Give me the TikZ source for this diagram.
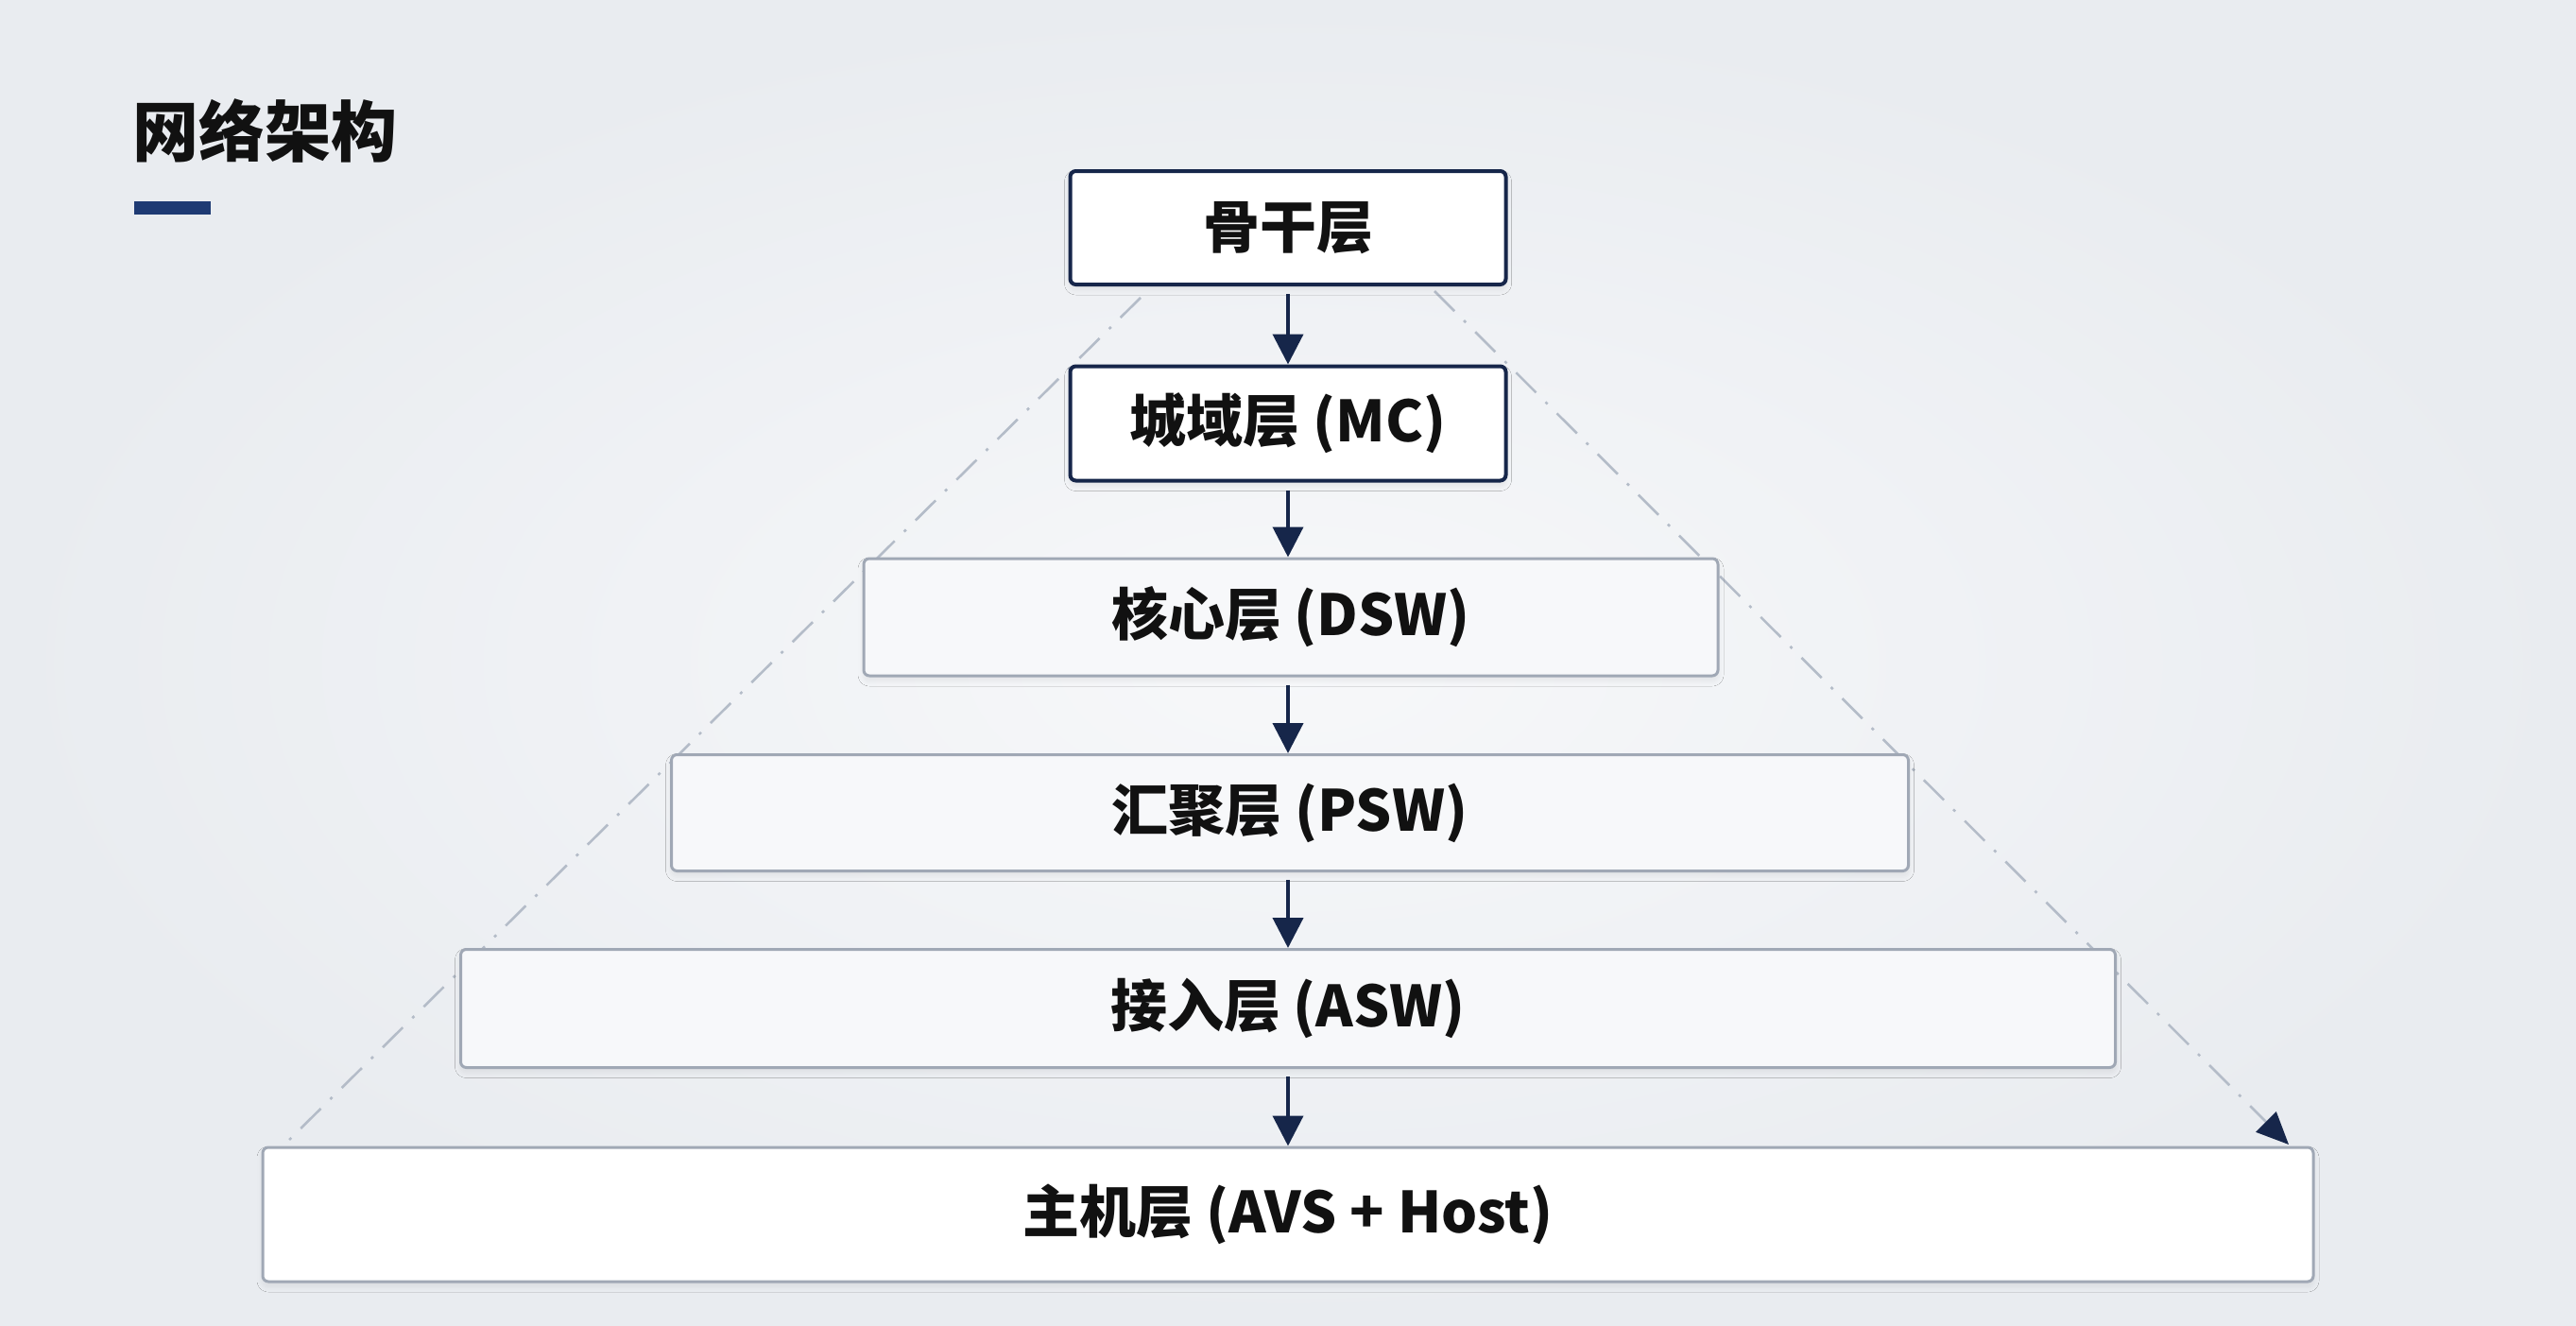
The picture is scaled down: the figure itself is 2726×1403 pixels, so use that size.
\documentclass[tikz,border=0pt]{standalone}
\usepackage{fontspec}
\setmainfont{Noto Sans CJK SC}
\usetikzlibrary{arrows.meta,shadows.blur}
\definecolor{navy}{RGB}{22,38,74}
\definecolor{barblue}{RGB}{30,58,115}
\definecolor{bordergray}{RGB}{160,168,181}
\definecolor{dashgray}{RGB}{180,188,200}
\definecolor{boxfill}{RGB}{247,248,250}
\definecolor{bgout}{RGB}{233,236,240}
\definecolor{bgin}{RGB}{247,248,250}
\definecolor{txt}{RGB}{17,17,17}
\begin{document}
\begin{tikzpicture}[x=0.5pt,y=-0.5pt,
  layer/.style={draw=bordergray, fill=boxfill, line width=1.5pt, rounded corners=3pt,
    inner sep=0pt, text=txt, font=\bfseries\fontsize{30pt}{32pt}\selectfont,
    blur shadow={shadow xshift=0pt, shadow yshift=-2.5pt, shadow opacity=7, shadow blur radius=3pt, shadow blur extra rounding=3pt}},
  toplayer/.style={layer, draw=navy, line width=2pt, fill=white},
  flow/.style={draw=navy, line width=2pt, -{Triangle[length=16pt,width=16pt]}},
  guide/.style={draw=dashgray, line width=1.3pt, dash pattern=on 15pt off 7pt on 1.5pt off 7pt},
]
\shade[inner color=bgin, outer color=bgout] (0,0) rectangle (2726,1403);
\useasboundingbox (0,0) rectangle (2726,1403);

% title
\node[anchor=west, inner sep=0pt, text=txt, font=\bfseries\fontsize{35pt}{37pt}\selectfont] (title) at (140,138) {网络架构};
\fill[barblue] (142,213) rectangle (223,227);

% guides (behind boxes)
\coordinate (l1) at (1207,315);
\coordinate (l2) at (300,1212);
\coordinate (r1) at (1518,308);
\coordinate (r2) at (2422,1211);
\draw[guide] (l1) -- (l2);
\draw[guide, -{Triangle[length=17pt,width=15pt,color=navy]}] (r1) -- (r2);

% layers
\node[toplayer, minimum width=230.5pt, minimum height=60pt] (bb) at (1363,241) {骨干层};
\node[toplayer, minimum width=230.5pt, minimum height=60.5pt] (mc) at (1363,448) {城域层 (MC)};
\node[layer, minimum width=452pt, minimum height=62pt] (dsw) at (1366,653) {核心层 (DSW)};
\node[layer, minimum width=654.5pt, minimum height=61.5pt] (psw) at (1365,860) {汇聚层 (PSW)};
\node[layer, minimum width=875.5pt, minimum height=62.5pt] (asw) at (1363,1067) {接入层 (ASW)};
\node[layer, fill=white, minimum width=1085pt, minimum height=71pt] (host) at (1363,1285) {主机层 (AVS + Host)};

% flow arrows
\draw[flow] ([yshift=-4pt]bb.south) -- (mc.north);
\draw[flow] ([yshift=-4pt]mc.south) -- (mc.south |- dsw.north);
\draw[flow] ([yshift=-4pt]mc.south |- dsw.south) -- (mc.south |- psw.north);
\draw[flow] ([yshift=-4pt]mc.south |- psw.south) -- (mc.south |- asw.north);
\draw[flow] ([yshift=-4pt]mc.south |- asw.south) -- (mc.south |- host.north);
\end{tikzpicture}
\end{document}
